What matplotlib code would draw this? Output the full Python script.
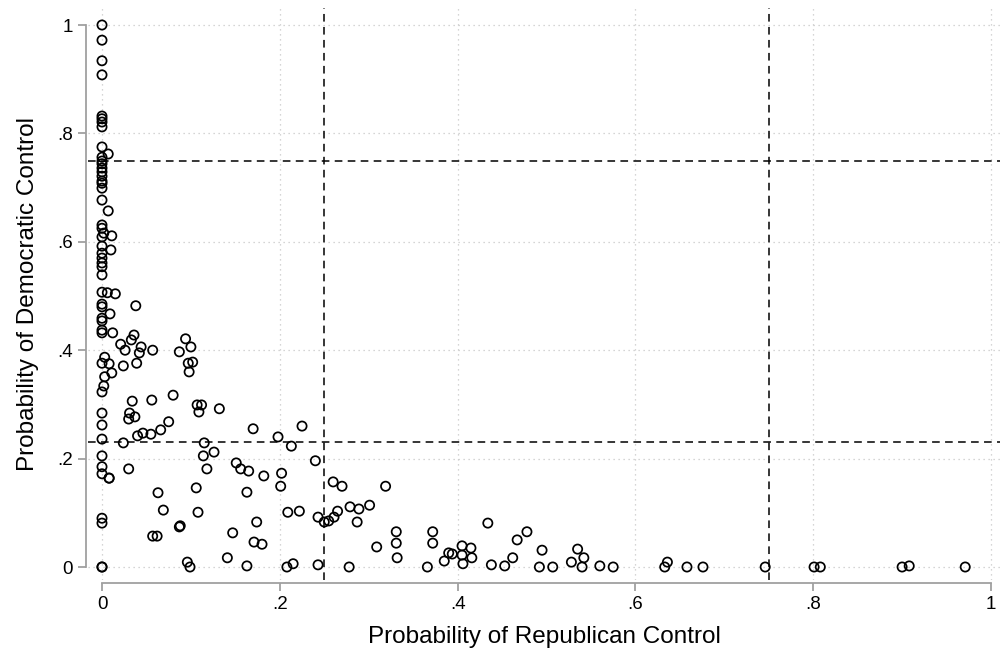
import matplotlib
matplotlib.use("Agg")
import matplotlib.pyplot as plt

plt.rcParams['font.family'] = ['Liberation Sans', 'DejaVu Sans']

# points with Pr(Republican) == 0
zero_dem = [1.0, 0.972, 0.934, 0.908, 0.832, 0.827, 0.821, 0.812, 0.775, 0.756,
            0.749, 0.744, 0.736, 0.729, 0.721, 0.712, 0.708, 0.699, 0.677, 0.631,
            0.625, 0.609, 0.592, 0.579, 0.570, 0.561, 0.554, 0.539, 0.507, 0.485,
            0.480, 0.459, 0.454, 0.437, 0.432, 0.376, 0.323, 0.284, 0.262, 0.236,
            0.205, 0.185, 0.172, 0.090, 0.081, 0.0, 0.0]

# all other districts
rep = [0.007, 0.007, 0.002, 0.011, 0.010, 0.006, 0.015, 0.009, 0.012, 0.003,
       0.008, 0.011, 0.003, 0.002, 0.008, 0.038, 0.036, 0.033, 0.021, 0.026,
       0.044, 0.042, 0.057, 0.039, 0.024, 0.094, 0.100, 0.087, 0.097, 0.102,
       0.098, 0.034, 0.056, 0.080, 0.107, 0.112, 0.109, 0.132, 0.031, 0.030,
       0.037, 0.075, 0.066, 0.055, 0.046, 0.040, 0.024, 0.030, 0.008, 0.063,
       0.069, 0.057, 0.062, 0.087, 0.088, 0.096, 0.099, 0.106, 0.108, 0.114,
       0.115, 0.126, 0.118, 0.151, 0.156, 0.165, 0.182, 0.202, 0.201, 0.163,
       0.209, 0.222, 0.174, 0.147, 0.171, 0.180, 0.141, 0.163, 0.208, 0.215,
       0.243, 0.278, 0.170, 0.198, 0.225, 0.213, 0.240, 0.260, 0.270, 0.243,
       0.250, 0.255, 0.261, 0.265, 0.279, 0.289, 0.301, 0.287, 0.319, 0.309,
       0.331, 0.331, 0.332, 0.372, 0.372, 0.366, 0.385, 0.390, 0.394, 0.405,
       0.415, 0.405, 0.416, 0.406, 0.434, 0.438, 0.453, 0.462, 0.467, 0.478,
       0.495, 0.492, 0.507, 0.528, 0.535, 0.542, 0.540, 0.560, 0.575, 0.633,
       0.636, 0.658, 0.676, 0.746, 0.801, 0.808, 0.900, 0.908, 0.971]
dem = [0.762, 0.657, 0.616, 0.611, 0.585, 0.506, 0.504, 0.467, 0.432, 0.387,
       0.375, 0.358, 0.351, 0.334, 0.164, 0.482, 0.428, 0.419, 0.411, 0.400,
       0.406, 0.395, 0.400, 0.376, 0.371, 0.421, 0.406, 0.397, 0.376, 0.378,
       0.360, 0.306, 0.308, 0.317, 0.299, 0.299, 0.286, 0.292, 0.284, 0.273,
       0.277, 0.268, 0.253, 0.245, 0.247, 0.242, 0.229, 0.181, 0.164, 0.137,
       0.105, 0.057, 0.057, 0.074, 0.076, 0.009, 0.0, 0.146, 0.101, 0.205,
       0.229, 0.212, 0.181, 0.192, 0.181, 0.177, 0.168, 0.173, 0.149, 0.138,
       0.101, 0.103, 0.083, 0.063, 0.046, 0.042, 0.017, 0.002, 0.0, 0.006,
       0.004, 0.0, 0.255, 0.240, 0.260, 0.223, 0.196, 0.157, 0.149, 0.092,
       0.083, 0.085, 0.092, 0.103, 0.111, 0.107, 0.114, 0.083, 0.149, 0.037,
       0.065, 0.044, 0.017, 0.065, 0.044, 0.0, 0.011, 0.026, 0.024, 0.039,
       0.035, 0.022, 0.017, 0.006, 0.081, 0.004, 0.002, 0.017, 0.050, 0.065,
       0.031, 0.0, 0.0, 0.009, 0.033, 0.017, 0.0, 0.002, 0.0, 0.0,
       0.009, 0.0, 0.0, 0.0, 0.0, 0.0, 0.0, 0.002, 0.0]

ticks = [0, 0.2, 0.4, 0.6, 0.8, 1.0]
tick_labels = ['0', '.2', '.4', '.6', '.8', '1']
vlines = [0.25, 0.75]
hlines = [0.23, 0.75]

W, H = 1000, 655
fig = plt.figure(figsize=(W / 100, H / 100), dpi=100)
L, R, T, B = 88, 1000, 8, 580
ax = fig.add_axes([L / W, 1 - B / H, (R - L) / W, (B - T) / H])
x0, x1 = 102, 991
y0, y1 = 567, 25
ax.set_xlim((L - x0) / (x1 - x0), (R - x0) / (x1 - x0))
ax.set_ylim((y0 - B) / (y0 - y1), (y0 - T) / (y0 - y1))

ax.scatter([0.0] * len(zero_dem) + rep, zero_dem + dem, s=44,
           facecolors='none', edgecolors='black', linewidths=1.25,
           zorder=3, clip_on=False)

for v in vlines:
    ax.axvline(v, color='black', lw=1.1, ls=(0, (5, 3.5)), zorder=2)
for h in hlines:
    ax.axhline(h, color='black', lw=1.1, ls=(0, (5, 3.5)), zorder=2)

ax.set_xticks(ticks)
ax.set_xticklabels(tick_labels)
ax.set_yticks(ticks)
ax.set_yticklabels(tick_labels)
ax.grid(True, color='#c8c8c8', ls=(0, (1, 3)), lw=0.9)
ax.set_axisbelow(True)

for side in ('top', 'right'):
    ax.spines[side].set_visible(False)
ax.spines['left'].set_position(('outward', 1.5))
ax.spines['bottom'].set_position(('outward', 2.2))
ax.spines['left'].set_bounds(0, 1)
ax.spines['bottom'].set_bounds(0, 1)
for side in ('left', 'bottom'):
    ax.spines[side].set_color('#a0a0a0')
    ax.spines[side].set_linewidth(1.3)
ax.tick_params(axis='both', colors='#a0a0a0', length=5.5, width=1.3,
               labelcolor='black', labelsize=13.5, pad=4)

ax.set_xlabel('Probability of Republican Control', fontsize=17.5, labelpad=9)
ax.set_ylabel('Probability of Democratic Control', fontsize=17.5, labelpad=13)

fig.savefig('out.png', dpi=100)
